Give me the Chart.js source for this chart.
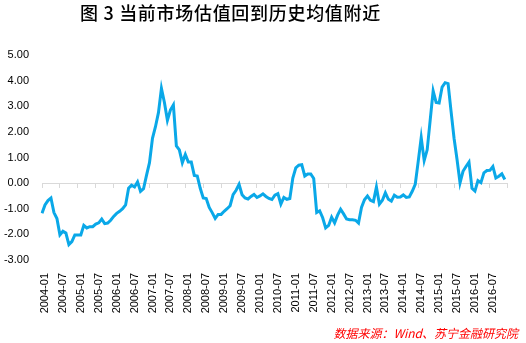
<!DOCTYPE html>
<html>
<head>
<meta charset="utf-8">
<script src="https://cdn.jsdelivr.net/npm/chart.js@4.4.1/dist/chart.umd.min.js"></script>
<style>
  html, body { margin: 0; padding: 0; background: #fff; }
  #wrap { width: 526px; height: 343px; position: relative; }
</style>
</head>
<body>
<div id="wrap"><canvas id="valChart" width="526" height="343"></canvas></div>
<script>
var chartTitle = '图 3 当前市场估值回到历史均值附近';
var sourceNote = '数据来源：Wind、苏宁金融研究院';

// monthly labels 2004-01 .. 2017-01 (last one only closes the axis)
var months = [];
for (var y = 2004; y <= 2017; y++) {
    for (var m = 1; m <= 12; m++) {
        if (y == 2017 && m > 1) break;
        months.push(y + '-' + (m < 10 ? '0' + m : m));
    }
}

// valuation deviation from historical mean, 2004-01 .. 2016-12
var valuation = [
    -1.18, -0.85, -0.68, -0.58, -1.15, -1.38, -2.02, -1.88, -1.95, -2.40, -2.28, -2.02,
    -2.02, -2.02, -1.65, -1.75, -1.70, -1.70, -1.60, -1.55, -1.40, -1.58, -1.56, -1.45,
    -1.30, -1.18, -1.10, -1.00, -0.85, -0.20, -0.08, -0.15, 0.05, -0.32, -0.22, 0.30,
    0.80, 1.75, 2.20, 2.75, 3.70, 3.15, 2.45, 2.85, 3.05, 1.45, 1.30, 0.80,
    1.12, 0.82, 0.82, 0.30, 0.28, -0.20, -0.58, -0.60, -0.95, -1.15, -1.38, -1.22,
    -1.22, -1.10, -1.00, -0.88, -0.45, -0.28, -0.05, -0.45, -0.58, -0.62, -0.52, -0.44,
    -0.56, -0.50, -0.42, -0.52, -0.60, -0.64, -0.47, -0.41, -0.82, -0.56, -0.63, -0.60,
    0.20, 0.60, 0.70, 0.72, 0.28, 0.36, 0.36, 0.18, -1.15, -1.08, -1.35, -1.75,
    -1.65, -1.33, -1.55, -1.25, -1.02, -1.20, -1.40, -1.43, -1.43, -1.45, -1.56, -0.95,
    -0.65, -0.50, -0.67, -0.72, -0.15, -0.82, -0.67, -0.38, -0.63, -0.70, -0.47, -0.55,
    -0.54, -0.46, -0.56, -0.54, -0.32, -0.05, 0.85, 1.78, 0.88, 1.30, 2.45, 3.60,
    3.15, 3.13, 3.75, 3.92, 3.88, 2.80, 1.75, 0.92, 0.01, 0.46, 0.65, 0.82,
    -0.20, -0.31, 0.10, 0.02, 0.40, 0.49, 0.50, 0.65, 0.20, 0.27, 0.36, 0.14
];

var yMin = -3, yMax = 5, yStep = 1;

function isHalfYear(label) {
    return /-(01|07)$/.test(label);
}

var textPlugin = {
    id: 'textPlugin',
    afterDraw: function (chart) {
        var c = chart.ctx;
        c.save();
        c.fillStyle = '#000';
        c.font = '500 18px "Noto Sans CJK SC"';
        c.letterSpacing = '0.7px';
        c.textBaseline = 'middle';
        c.textAlign = 'left';
        c.fillText(chartTitle, 80, 13);
        c.letterSpacing = '0px';
        c.fillStyle = '#ff0000';
        c.font = 'italic 12px "Noto Sans CJK SC"';
        c.textAlign = 'right';
        c.fillText(sourceNote, 518, 333);
        c.restore();
    }
};

var ctx = document.getElementById('valChart');
new Chart(ctx, {
    type: 'line',
    data: {
        labels: months,
        datasets: [{
            data: valuation,
            xAxisID: 'x',
            borderColor: '#0aa8e8',
            backgroundColor: '#0aa8e8',
            borderWidth: 3,
            pointRadius: 0,
            tension: 0,
            fill: false
        }]
    },
    options: {
        responsive: false,
        animation: false,
        layout: { padding: { top: 55, right: 16, bottom: 0, left: 0 } },
        plugins: {
            legend: { display: false },
            tooltip: { enabled: false }
        },
        scales: {
            x: {
                type: 'category',
                position: 'bottom',
                offset: false,
                grid: { display: false },
                border: { display: false },
                ticks: {
                    autoSkip: false,
                    minRotation: 90,
                    maxRotation: 90,
                    padding: 5,
                    labelOffset: 3,
                    color: '#000',
                    font: { family: 'Liberation Sans', size: 11 },
                    callback: function (val, idx) {
                        var lab = months[idx];
                        return (idx < valuation.length && isHalfYear(lab)) ? lab : '';
                    }
                },
                afterFit: function (scale) { scale.height = 83; }
            },
            x2: {
                type: 'category',
                position: { y: 0 },
                offset: false,
                grid: {
                    drawOnChartArea: false,
                    drawTicks: true,
                    tickLength: 4,
                    color: function (c) {
                        return isHalfYear(months[c.index]) ? '#d9d9d9' : 'rgba(0,0,0,0)';
                    }
                },
                border: { display: true, color: '#d9d9d9', width: 1 },
                ticks: { display: false, autoSkip: false }
            },
            y: {
                min: yMin,
                max: yMax,
                grid: { display: false, drawTicks: false },
                border: { display: false },
                ticks: {
                    stepSize: yStep,
                    padding: 13,
                    color: '#000',
                    font: { family: 'Liberation Sans', size: 11 },
                    callback: function (v) { return v.toFixed(2); }
                },
                afterFit: function (scale) { scale.width = 42; }
            }
        }
    },
    plugins: [textPlugin]
});
</script>
</body>
</html>
